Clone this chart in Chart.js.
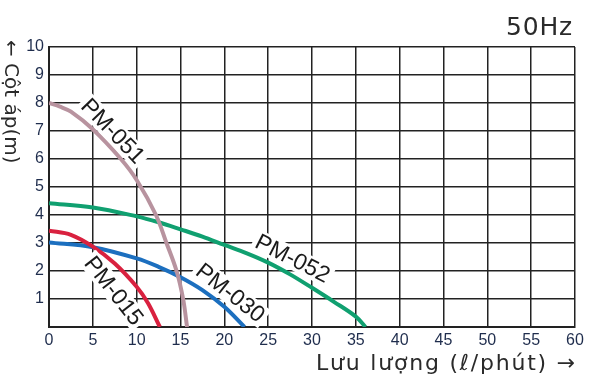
<!DOCTYPE html>
<html lang="vi">
<head>
<meta charset="UTF-8">
<title>Pump curves 50Hz</title>
<script src="https://cdn.jsdelivr.net/npm/chart.js"></script>
<style>
  html, body { margin: 0; padding: 0; background: #fff; }
  #wrap { width: 597px; height: 386px; }
</style>
</head>
<body>
<div id="wrap"><canvas id="pumpChart" width="597" height="386"></canvas></div>
<script>
// flow (l/min) and head (m)
const pm051Flow = [0, 1.25, 2.5, 5, 8.2, 10, 12.2, 13.4, 14.55, 15.3, 15.75];
const pm051Head = [8.0, 7.87, 7.69, 7.06, 6.0, 5.25, 4.0, 3.0, 2.0, 1.0, 0];
const pm052Flow = [0, 5, 10, 12.5, 15, 17.5, 20, 22.5, 25, 27.5, 30, 32.5, 35, 36.1];
const pm052Head = [4.42, 4.27, 3.95, 3.74, 3.49, 3.23, 2.93, 2.64, 2.3, 1.88, 1.4, 0.9, 0.37, 0];
const pm030Flow = [0, 5, 10, 12.5, 15, 17.5, 20, 22.3];
const pm030Head = [3.02, 2.85, 2.45, 2.15, 1.78, 1.32, 0.72, 0];
const pm015Flow = [0, 2.5, 5, 7.5, 10, 11.3, 12.65];
const pm015Head = [3.44, 3.29, 2.87, 2.27, 1.44, 0.85, 0];

const xTicks = [0, 5, 10, 15, 20, 25, 30, 35, 40, 45, 50, 55, 60];
const yTicks = [1, 2, 3, 4, 5, 6, 7, 8, 9, 10];

// curve labels: text, anchor (flow, head), angle in degrees
const curveLabels = [
    { text: 'PM-051', x: 7.3, y: 7.0, angle: 46 },
    { text: 'PM-052', x: 27.8, y: 2.45, angle: 27 },
    { text: 'PM-030', x: 20.7, y: 1.22, angle: 38 },
    { text: 'PM-015', x: 7.4, y: 1.3, angle: 52 }
];

const toPoints = (xs, ys) => xs.map((x, i) => ({ x: x, y: ys[i] }));

// draw text stretched with letter spacing so it covers a given width
function spacedText(ctx, text, xRight, y, width) {
    ctx.letterSpacing = '0px';
    const n = [...text].length;
    const w = ctx.measureText(text).width;
    const sp = Math.max(0, (width - w) / n);
    ctx.letterSpacing = sp.toFixed(2) + 'px';
    ctx.textAlign = 'left';
    ctx.fillText(text, xRight - width, y);
    ctx.letterSpacing = '0px';
}

const labelPlugin = {
    id: 'curveLabels',
    afterDatasetsDraw(chart) {
        const ctx = chart.ctx;
        const sx = chart.scales.x, sy = chart.scales.y;
        ctx.save();
        ctx.font = '23px "Liberation Sans", Arial, sans-serif';
        ctx.textAlign = 'center';
        ctx.textBaseline = 'middle';
        curveLabels.forEach(l => {
            const px = sx.getPixelForValue(l.x);
            const py = sy.getPixelForValue(l.y);
            const w = ctx.measureText(l.text).width;
            ctx.save();
            ctx.translate(px, py);
            ctx.rotate(l.angle * Math.PI / 180);
            ctx.fillStyle = '#fff';
            ctx.fillRect(-w / 2 - 3, -11, w + 6, 22);
            ctx.fillStyle = '#1a1a1a';
            ctx.fillText(l.text, 0, 1);
            ctx.restore();
        });
        ctx.restore();
    },
    afterDraw(chart) {
        const ctx = chart.ctx;
        const area = chart.chartArea;
        ctx.save();
        ctx.fillStyle = '#2a2a2a';
        ctx.textBaseline = 'alphabetic';
        // frequency note
        ctx.font = '25px "DejaVu Sans", sans-serif';
        spacedText(ctx, '50Hz', area.right - 2, 35, 67);
        // x title
        ctx.font = '22px "DejaVu Sans", "Noto Sans CJK JP", sans-serif';
        spacedText(ctx, 'Lưu lượng (ℓ/phút) →', area.right + 2, 370, 261);
        // y title, rotated clockwise
        ctx.save();
        ctx.translate(10, 40);
        ctx.rotate(Math.PI / 2);
        ctx.textAlign = 'left';
        ctx.textBaseline = 'middle';
        ctx.font = '20px "DejaVu Sans", sans-serif';
        ctx.fillText('← Cột áp(m)', 0, 0);
        ctx.restore();
        ctx.restore();
    }
};

const ctx = document.getElementById('pumpChart').getContext('2d');
new Chart(ctx, {
    type: 'line',
    data: {
        datasets: [
            { label: 'PM-051', data: toPoints(pm051Flow, pm051Head), borderColor: '#b8939f', order: 1 },
            { label: 'PM-015', data: toPoints(pm015Flow, pm015Head), borderColor: '#d9213f', order: 2 },
            { label: 'PM-030', data: toPoints(pm030Flow, pm030Head), borderColor: '#1c6fbf', order: 3 },
            { label: 'PM-052', data: toPoints(pm052Flow, pm052Head), borderColor: '#10a070', order: 4 }
        ]
    },
    options: {
        responsive: false,
        animation: false,
        elements: {
            line: { borderWidth: 4, tension: 0.35, fill: false },
            point: { radius: 0 }
        },
        layout: { padding: { top: 47, right: 22, left: 0, bottom: 0 } },
        plugins: { legend: { display: false }, tooltip: { enabled: false } },
        scales: {
            x: {
                type: 'linear',
                min: 0, max: 60,
                afterBuildTicks: axis => { axis.ticks = xTicks.map(v => ({ value: v })); },
                afterFit: axis => { axis.height = 59; },
                grid: { color: '#222', lineWidth: 1.5, drawTicks: false },
                border: { color: '#222', width: 2 },
                ticks: { color: '#1f2d4d', padding: 4, font: { size: 16, family: '"Liberation Sans", Arial, sans-serif' } }
            },
            y: {
                type: 'linear',
                min: 0, max: 10,
                afterBuildTicks: axis => { axis.ticks = [0].concat(yTicks).map(v => ({ value: v })); },
                afterFit: axis => { axis.width = 49; },
                grid: { color: '#222', lineWidth: 1.5, drawTicks: false },
                border: { color: '#222', width: 2 },
                ticks: {
                    color: '#1f2d4d', padding: 5,
                    font: { size: 16, family: '"Liberation Sans", Arial, sans-serif' },
                    callback: v => (v === 0 ? '' : v)
                }
            }
        }
    },
    plugins: [labelPlugin]
});
</script>
</body>
</html>
